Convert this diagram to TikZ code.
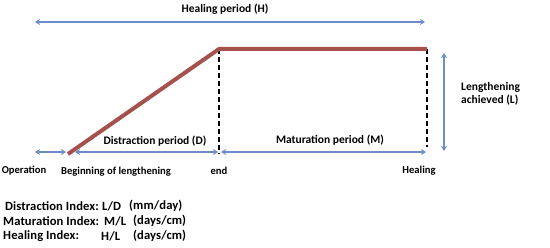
\documentclass[tikz,border=0pt]{standalone}
\usepackage{fontspec}
\setmainfont{Carlito}
\usetikzlibrary{arrows.meta, positioning}
\definecolor{blu}{HTML}{6E8DC6}
\definecolor{rosso}{HTML}{A5514D}

\begin{document}
\begin{tikzpicture}[x=1pt,y=-1pt,>={Stealth[length=5pt,width=6pt,inset=1.5pt]},
    freccia/.style={<->,blu,line width=1.4pt},
    etichetta/.style={font=\bfseries\fontsize{10.6}{12}\selectfont,inner sep=1pt},
    indice/.style={font=\bfseries\fontsize{12.6}{14}\selectfont\addfontfeature{LetterSpace=0.8},inner sep=1pt,anchor=west},
    titolo/.style={font=\bfseries\fontsize{11.5}{13}\selectfont,inner sep=1pt}]
    \useasboundingbox (0,0) rectangle (550,248);
    % Punti
    \coordinate (hA) at (35,22);
    \coordinate (hB) at (425,22);
    \coordinate (opA) at (35,152);
    \coordinate (opB) at (66,152);
    \coordinate (dA) at (75,152);
    \coordinate (dB) at (218,152);
    \coordinate (mA) at (221,152);
    \coordinate (mB) at (426,152);
    \coordinate (lA) at (444,53);
    \coordinate (lB) at (444,151);
    \coordinate (inizio) at (68,154);
    \coordinate (fine) at (219,49);
    \coordinate (guar) at (427,49);
    \coordinate (fineB) at (219,154);
    \coordinate (guarB) at (427,147);
    % Linee tratteggiate
    \draw[black,line width=1.5pt,dash pattern=on 5pt off 3pt] (fine) -- (fineB);
    \draw[black,line width=1.5pt,dash pattern=on 5pt off 3pt] (guar) -- (guarB);
    % Allungamento
    \draw[rosso,line width=4pt,line join=miter] (inizio) -- (fine) -- (guar);
    % Frecce
    \draw[freccia] (hA) -- (hB);
    \draw[freccia] (opA) -- (opB);
    \draw[freccia] (dA) -- (dB);
    \draw[freccia] (mA) -- (mB);
    \draw[freccia] (lA) -- (lB);
    % Etichette
    \node[titolo] (tH) at (225,9) {Healing period (H)};
    \node[titolo] (tD) at (155,141) {Distraction period (D)};
    \node[titolo] (tM) at (330,140) {Maturation period (M)};
    \node[titolo,align=left,anchor=west] (tL) at (460,94) {Lengthening\\achieved (L)};
    \node[etichetta] (eOp) at (24,171) {Operation};
    \node[etichetta] (eIn) at (116,172) {Beginning of lengthening};
    \node[etichetta] (eFi) at (219,171) {end};
    \node[etichetta] (eGu) at (419,171) {Healing};
    % Indici
    \node[indice] (iD) at (4,206) {Distraction Index:};
    \node[indice] (iM) at (2,221) {Maturation Index:};
    \node[indice] (iH) at (2,236) {Healing Index:};
    \node[indice] (rD) at (101,206) {L/D};
    \node[indice] (rM) at (103,221) {M/L};
    \node[indice] (rH) at (100,236) {H/L};
    \node[indice] (uD) at (128,206) {(mm/day)};
    \node[indice] (uM) at (132,221) {(days/cm)};
    \node[indice] (uH) at (132,236) {(days/cm)};
\end{tikzpicture}
\end{document}
